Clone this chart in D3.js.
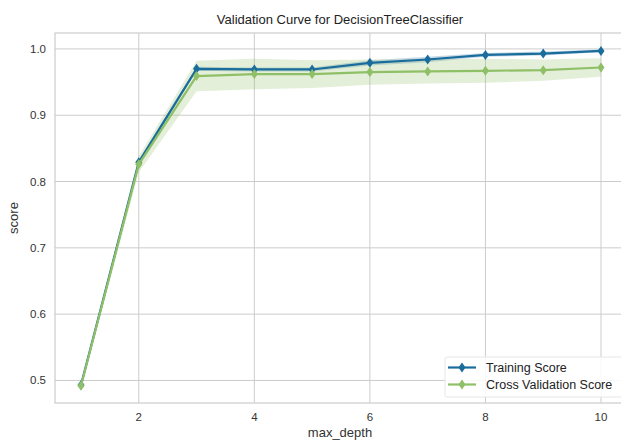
<!DOCTYPE html>
<html>
<head>
<meta charset="utf-8">
<script src="https://cdn.jsdelivr.net/npm/d3@7"></script>
<style>
  body { margin: 0; background: #fff; }
  svg { font-family: "Liberation Sans", Arial, sans-serif; }
</style>
</head>
<body>
<svg id="chart" width="621" height="441"></svg>
<script>
// max_depth values
const depths = [1, 2, 3, 4, 5, 6, 7, 8, 9, 10];
// mean scores
const trainMean = [0.493, 0.829, 0.970, 0.969, 0.969, 0.979, 0.984, 0.991, 0.993, 0.997];
const cvMean    = [0.492, 0.826, 0.959, 0.962, 0.962, 0.965, 0.966, 0.967, 0.968, 0.972];
// standard deviations (band half widths)
const trainStd  = [0.002, 0.004, 0.003, 0.003, 0.003, 0.004, 0.004, 0.003, 0.003, 0.002];
const cvStd     = [0.004, 0.012, 0.023, 0.023, 0.021, 0.019, 0.018, 0.018, 0.016, 0.014];
const xTicks = [2, 4, 6, 8, 10];
const yTicks = [0.5, 0.6, 0.7, 0.8, 0.9, 1.0];

const series = [
    {name: 'Training Score', mean: trainMean, std: trainStd, color: '#1a6c9c'},
    {name: 'Cross Validation Score', mean: cvMean, std: cvStd, color: '#8fbf66'}
];

const svg = d3.select('#chart');
const margin = {left: 55, top: 33, right: 627, bottom: 403};

const x = d3.scaleLinear().domain([0.55, 10.45]).range([margin.left, margin.right]);
const y = d3.scaleLinear().domain([0.466, 1.024]).range([margin.bottom, margin.top]);

const gridColor = '#cccccc';

// grid
svg.append('g').selectAll('line').data(xTicks).join('line')
    .attr('x1', d => x(d)).attr('x2', d => x(d))
    .attr('y1', margin.top).attr('y2', margin.bottom)
    .attr('stroke', gridColor).attr('stroke-width', 1);
svg.append('g').selectAll('line').data(yTicks).join('line')
    .attr('x1', margin.left).attr('x2', margin.right)
    .attr('y1', d => y(d)).attr('y2', d => y(d))
    .attr('stroke', gridColor).attr('stroke-width', 1);

// frame
svg.append('rect')
    .attr('x', margin.left).attr('y', margin.top)
    .attr('width', margin.right - margin.left).attr('height', margin.bottom - margin.top)
    .attr('fill', 'none').attr('stroke', gridColor).attr('stroke-width', 1.2);

// bands
const area = d3.area()
    .x((d, i) => x(depths[i]))
    .y0(d => y(d[0]))
    .y1(d => y(d[1]));

series.forEach(s => {
    const pts = s.mean.map((m, i) => [m - s.std[i], m + s.std[i]]);
    svg.append('path')
        .attr('d', area(pts))
        .attr('fill', s.color).attr('fill-opacity', 0.25);
});

// lines + markers
const line = d3.line().x((d, i) => x(depths[i])).y(d => y(d));
const diamond = 'M0,-5L3.5,0L0,5L-3.5,0Z';

series.forEach(s => {
    svg.append('path')
        .attr('d', line(s.mean))
        .attr('fill', 'none').attr('stroke', s.color).attr('stroke-width', 2.2);
    svg.append('g').selectAll('path').data(s.mean).join('path')
        .attr('d', diamond)
        .attr('transform', (d, i) => `translate(${x(depths[i])},${y(d)})`)
        .attr('fill', s.color);
});

// tick labels
svg.append('g').selectAll('text').data(xTicks).join('text')
    .attr('x', d => x(d)).attr('y', 421)
    .attr('text-anchor', 'middle')
    .attr('font-size', 11.5).attr('fill', '#333')
    .text(d => d);
svg.append('g').selectAll('text').data(yTicks).join('text')
    .attr('x', 46).attr('y', d => y(d) + 4)
    .attr('text-anchor', 'end')
    .attr('font-size', 11.5).attr('fill', '#333')
    .text(d => d.toFixed(1));

// axis labels and title
svg.append('text')
    .attr('x', (margin.left + margin.right) / 2 - 1).attr('y', 437)
    .attr('text-anchor', 'middle').attr('font-size', 13).attr('fill', '#333')
    .text('max_depth');
svg.append('text')
    .attr('transform', `translate(18,${(margin.top + margin.bottom) / 2}) rotate(-90)`)
    .attr('text-anchor', 'middle').attr('font-size', 13).attr('fill', '#333')
    .text('score');
svg.append('text')
    .attr('x', (margin.left + margin.right) / 2 - 1).attr('y', 24)
    .attr('text-anchor', 'middle').attr('font-size', 13).attr('fill', '#222')
    .text('Validation Curve for DecisionTreeClassifier');

// legend
const legend = svg.append('g').attr('transform', 'translate(445,357)');
legend.append('rect')
    .attr('width', 180).attr('height', 40).attr('rx', 2)
    .attr('fill', '#fff').attr('fill-opacity', 0.85)
    .attr('stroke', '#e6e6e6');
series.forEach((s, i) => {
    const row = legend.append('g').attr('transform', `translate(0,${10.5 + i * 17})`);
    row.append('line')
        .attr('x1', 3).attr('x2', 31)
        .attr('stroke', s.color).attr('stroke-width', 2.2);
    row.append('path').attr('d', diamond).attr('transform', 'translate(17,0)').attr('fill', s.color);
    row.append('text')
        .attr('x', 41).attr('y', 4.5)
        .attr('font-size', 12.5).attr('fill', '#222')
        .text(s.name);
});
</script>
</body>
</html>
